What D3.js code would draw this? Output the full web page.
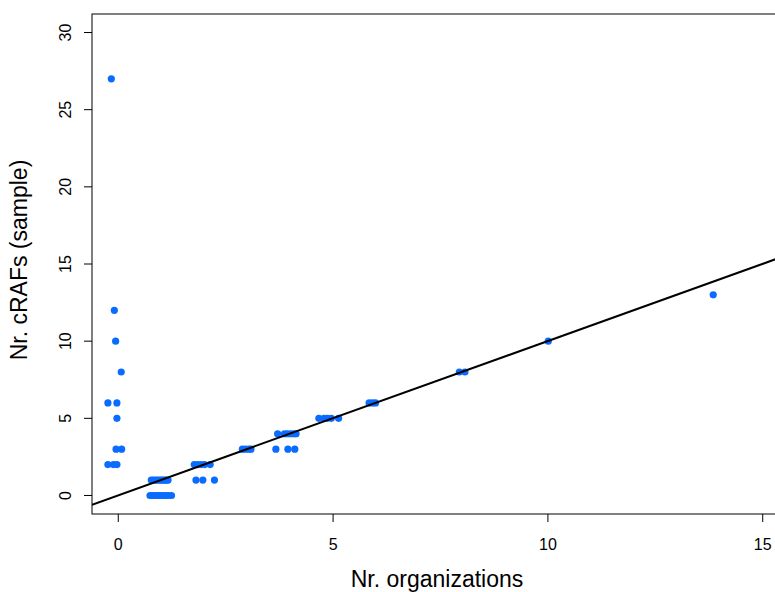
<!DOCTYPE html>
<html><head><meta charset="utf-8">
<script src="https://cdn.jsdelivr.net/npm/d3@7"></script>
<style>body{margin:0;background:#fff;} svg{display:block;font-family:"Liberation Sans",Arial,sans-serif;}</style>
</head><body>
<script>
const xTicks = [0, 5, 10, 15];
const yTicks = [0, 5, 10, 15, 20, 25, 30];
const xLabel = "Nr. organizations";
const yLabel = "Nr. cRAFs (sample)";
// jittered organization counts and cRAF counts
const orgs = [
  -0.15, -0.08, -0.05, 0.08, -0.23, -0.02, -0.02, -0.04, 0.09, -0.23, -0.10, -0.02,
  0.78, 0.83, 0.88, 0.93, 0.98, 1.02, 1.06, 1.10, 1.14, 1.17,
  0.75, 0.80, 0.86, 0.92, 0.97, 1.02, 1.08, 1.13, 1.18, 1.25,
  1.78, 1.86, 1.94, 2.02, 2.15, 1.82, 1.98, 2.25,
  2.90, 2.97, 3.05, 3.10,
  3.72, 3.88, 3.95, 4.03, 4.10, 4.15, 3.68, 3.96, 4.12,
  4.68, 4.80, 4.88, 4.97, 5.14,
  5.85, 5.93, 6.00,
  7.95, 8.08,
  10.02,
  13.86
];
const crafs = [
  27, 12, 10, 8, 6, 6, 5, 3, 3, 2, 2, 2,
  1, 1, 1, 1, 1, 1, 1, 1, 1, 1,
  0, 0, 0, 0, 0, 0, 0, 0, 0, 0,
  2, 2, 2, 2, 2, 1, 1, 1,
  3, 3, 3, 3,
  4, 4, 4, 4, 4, 4, 3, 3, 3,
  5, 5, 5, 5, 5,
  6, 6, 6,
  8, 8,
  10,
  13
];
const xDomain = [-0.6, 15.6];
const yDomain = [-1.2, 31.2];

const W = 775, H = 592;
const svg = d3.select("body").append("svg").attr("width", W).attr("height", H);
const x = d3.scaleLinear().domain(xDomain).range([92, 788]);
const y = d3.scaleLinear().domain(yDomain).range([514, 14]);

svg.append("defs").append("clipPath").attr("id","clip")
  .append("rect").attr("x",92).attr("y",14).attr("width",696).attr("height",500);

// points
svg.append("g").attr("clip-path","url(#clip)").selectAll("circle")
  .data(orgs.map((v,i)=>[v,crafs[i]])).join("circle")
  .attr("cx", d=>x(d[0])).attr("cy", d=>y(d[1])).attr("r", 3.6)
  .attr("fill", "#0a6cff");

// identity line
svg.append("line").attr("clip-path","url(#clip)")
  .attr("x1", x(xDomain[0])).attr("y1", y(xDomain[0]))
  .attr("x2", x(xDomain[1])).attr("y2", y(xDomain[1]))
  .attr("stroke","#000").attr("stroke-width",2);

// box
svg.append("rect").attr("x",92).attr("y",14).attr("width",696).attr("height",500)
  .attr("fill","none").attr("stroke","#000").attr("stroke-width",1);

// x axis
const xa = svg.append("g").attr("transform","translate(0,514)")
  .call(d3.axisBottom(x).tickValues(xTicks).tickSize(8).tickPadding(17).tickFormat(d3.format("d")));
xa.select(".domain").remove();
xa.selectAll("text").attr("font-size",16).attr("fill","#000").attr("font-family","Liberation Sans, Arial, sans-serif");

// y axis
const ya = svg.append("g").attr("transform","translate(92,0)")
  .call(d3.axisLeft(y).tickValues(yTicks).tickSize(8).tickFormat(d3.format("d")));
ya.select(".domain").remove();
ya.selectAll(".tick").attr("transform", null);
ya.selectAll(".tick line").attr("y1", d=>y(d)).attr("y2", d=>y(d));
ya.selectAll("text").attr("font-size",16).attr("fill","#000")
  .attr("font-family","Liberation Sans, Arial, sans-serif")
  .attr("text-anchor","middle")
  .attr("x",-26.5).attr("y", d=>y(d)).attr("dy","0.35em")
  .attr("transform", d=>`rotate(-90, -26.5, ${y(d)})`);

// labels
svg.append("text").attr("x",437).attr("y",587).attr("text-anchor","middle")
  .attr("font-size",23).text(xLabel);
svg.append("text").attr("transform","translate(27,260) rotate(-90)").attr("text-anchor","middle")
  .attr("font-size",23).text(yLabel);
</script>
</body></html>
